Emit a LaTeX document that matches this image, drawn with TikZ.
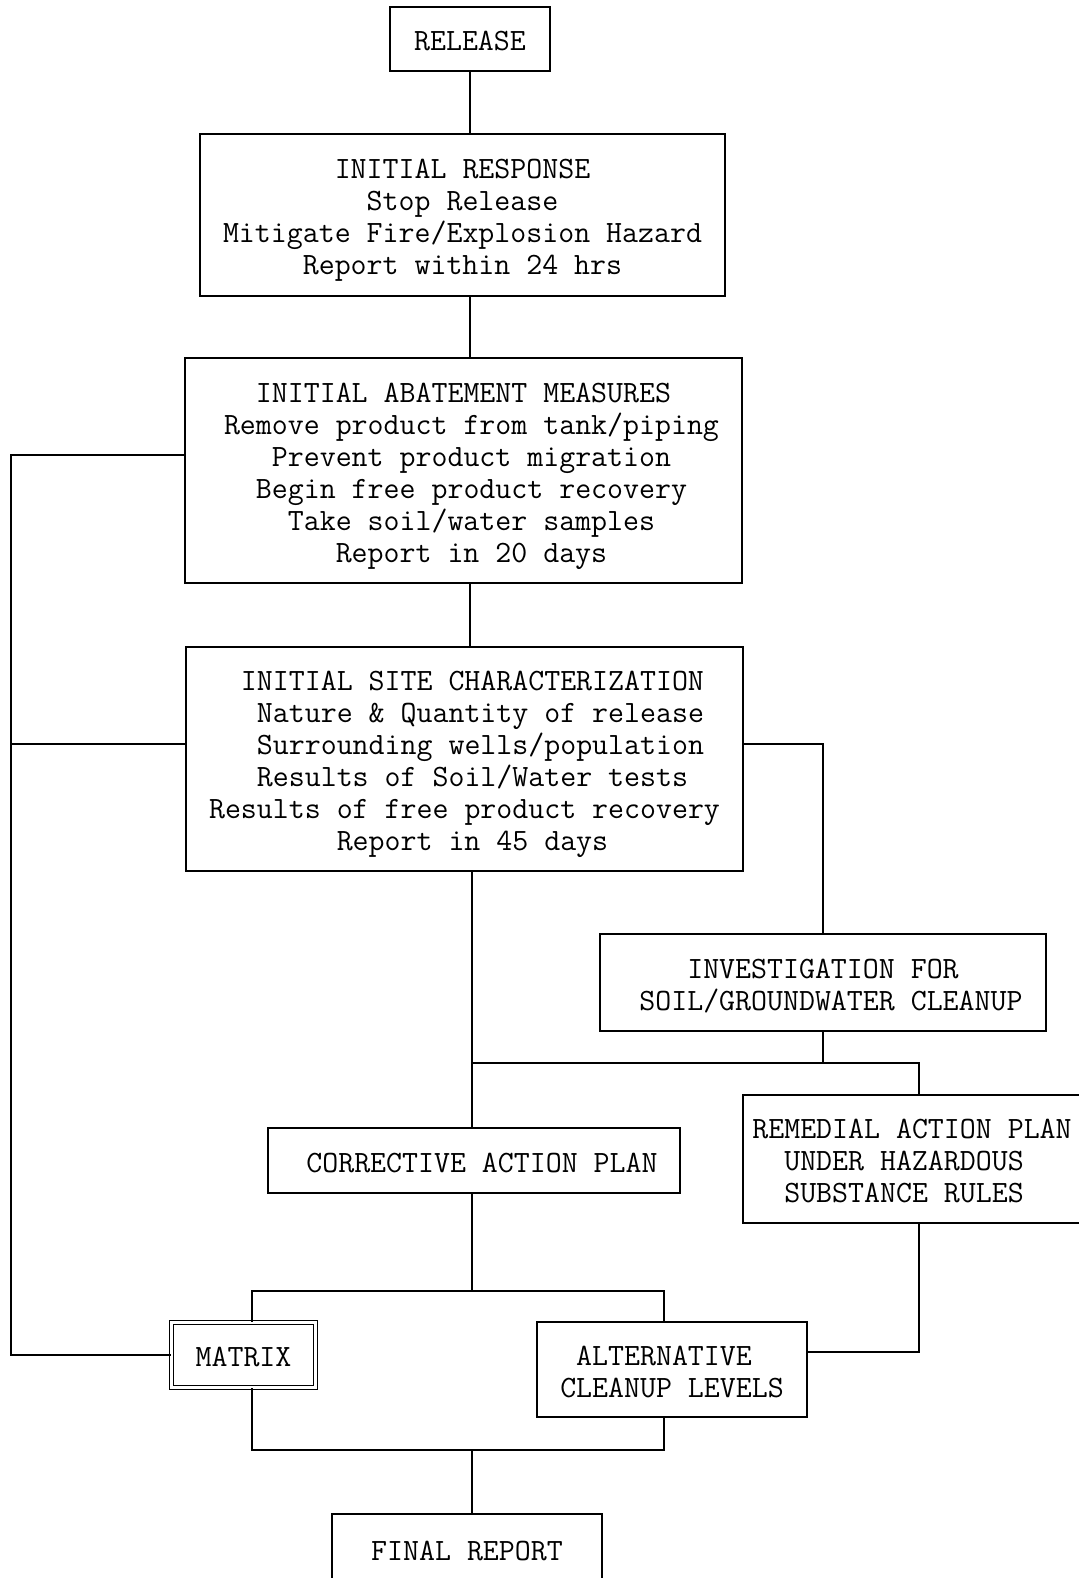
\documentclass[tikz,border=0pt]{standalone}
\usepackage{fontspec}
\usepackage{tikz}
\usetikzlibrary{calc, positioning}
\tikzset{>=stealth}
\tikzset{box/.style={draw, line width=1.4pt, align=left, inner sep=0pt, font=\ttfamily\fontsize{31}{32}\selectfont,
	execute at end node={\rule[-8pt]{0pt}{8pt}}}}
\tikzset{link/.style={line width=1.4pt}}
\newcommand{\strt}{\rule{0pt}{31pt}}
\newcommand{\pad}[1]{\hspace*{#1\fontcharwd\font`\x}}

\begin{document}
\begin{tikzpicture}[x=1pt, y=-1pt]
			\useasboundingbox (0,0) rectangle (1078,1578);
			\node [box, minimum width=160, minimum height=64] (rel) at (470,39) {\strt RELEASE};
			\node [box, minimum width=525, minimum height=162] (resp) at (462.5,215) {\strt\pad{7}INITIAL RESPONSE\\\pad{9}Stop Release\\Mitigate Fire/Explosion Hazard\\\pad{5}Report within 24 hrs};
			\node [box, minimum width=557, minimum height=225] (abate) at (463.5,470.5) {\strt\pad{3}INITIAL ABATEMENT MEASURES\\\pad{1}Remove product from tank/piping\\\pad{4}Prevent product migration\\\pad{3}Begin free product recovery\\\pad{5}Take soil/water samples\\\pad{8}Report in 20 days};
			\node [box, minimum width=557, minimum height=224] (site) at (464.5,759) {\strt\pad{2}INITIAL SITE CHARACTERIZATION\\\pad{3}Nature \& Quantity of release\\\pad{3}Surrounding wells/population\\\pad{3}Results of Soil/Water tests\\Results of free product recovery\\\pad{8}Report in 45 days};
			\node [box, minimum width=446, minimum height=97] (inv) at (823,982.5) {\strt\pad{4}INVESTIGATION FOR\\\pad{1}SOIL/GROUNDWATER CLEANUP};
			\node [box, minimum width=412, minimum height=65] (cap) at (474,1160.5) {\strt\pad{1}CORRECTIVE ACTION PLAN};
			\node [box, minimum width=338, minimum height=128] (rem) at (912,1159) {\strt REMEDIAL ACTION PLAN\\\pad{2}UNDER HAZARDOUS\\\pad{2}SUBSTANCE RULES};
			\node [box, line width=1.2pt, double, double distance=2.5pt, minimum width=144, minimum height=65] (matrix) at (243.5,1355) {\strt MATRIX};
			\node [box, minimum width=270, minimum height=95] (alt) at (672,1369.5) {\strt\pad{1}ALTERNATIVE\\CLEANUP LEVELS};
			\node [box, minimum width=270, minimum height=70] (fin) at (467,1549) {\strt FINAL REPORT};
			\coordinate (sp) at (470,0);
			\coordinate (lt) at (11,455);
			\coordinate (lm) at (11,744);
			\coordinate (ja) at (472,1063);
			\coordinate (jr) at (919,1063);
			\coordinate (bl) at (252,1291);
			\coordinate (br) at (664,1291);
			\coordinate (cl) at (252,1450);
			\coordinate (cr) at (664,1450);
			\coordinate (rb) at (919,1352);
			\draw [link] (rel.south) -- (rel.south |- resp.north);
			\draw [link] (resp.south -| sp) -- (abate.north -| sp);
			\draw [link] (abate.south -| sp) -- (site.north -| sp);
			\draw [link] (abate.west |- lt) -- (lt) |- (matrix.west);
			\draw [link] (site.west |- lm) -- (lm);
			\draw [link] (site.east |- lm) -| (inv.north);
			\draw [link] (site.south -| ja) -- (cap.north -| ja);
			\draw [link] (ja) -- (jr) -- (rem.north -| jr);
			\draw [link] (inv.south) -- (inv.south |- ja);
			\draw [link] (cap.south -| ja) -- (ja |- bl);
			\draw [link] (matrix.north -| bl) -- (bl) -- (br) -- (alt.north -| br);
			\draw [link] (matrix.south -| cl) -- (cl) -- (cr) -- (alt.south -| cr);
			\draw [link] (ja |- cl) -- (fin.north -| ja);
			\draw [link] (rem.south -| jr) -- (rb) -- (alt.east |- rb);
		\end{tikzpicture}
\end{document}
